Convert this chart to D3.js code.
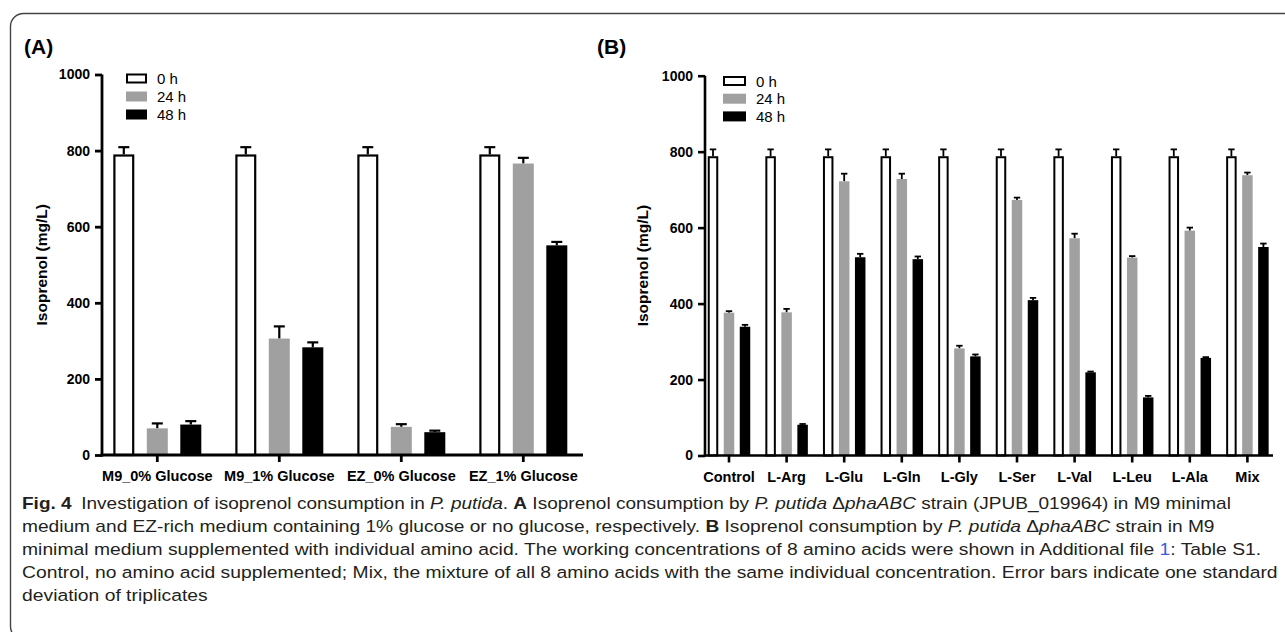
<!DOCTYPE html>
<html><head><meta charset="utf-8">
<script src="https://cdn.jsdelivr.net/npm/d3@7"></script>
<style>
html,body{margin:0;padding:0;background:#fff;}
svg{display:block;}
</style></head>
<body>
<svg id="chart" width="1285" height="632"></svg>
<script>
// ---------- data ----------
const seriesNames = ["0 h", "24 h", "48 h"];
const yTickValues = [0, 200, 400, 600, 800, 1000];

const catsA = ["M9_0% Glucose", "M9_1% Glucose", "EZ_0% Glucose", "EZ_1% Glucose"];
const a0h  = [790, 790, 790, 790];
const a0hErr = [19, 19, 19, 19];
const a24h = [70, 306, 74, 766];
const a24hErr = [13, 32, 7, 15];
const a48h = [80, 283, 60, 551];
const a48hErr = [9, 13, 4, 9];

const catsB = ["Control", "L-Arg", "L-Glu", "L-Gln", "L-Gly", "L-Ser", "L-Val", "L-Leu", "L-Ala", "Mix"];
const b0h  = [788, 788, 788, 788, 788, 788, 788, 788, 788, 788];
const b0hErr = [18, 18, 18, 18, 18, 18, 18, 18, 18, 18];
const b24h = [376, 377, 722, 728, 282, 673, 572, 521, 592, 738];
const b24hErr = [4, 9, 20, 14, 7, 6, 12, 4, 8, 7];
const b48h = [339, 81, 522, 517, 261, 409, 219, 153, 257, 549];
const b48hErr = [5, 2, 9, 7, 5, 6, 2, 4, 2, 9];

// ---------- styles ----------
const fills = {"0 h": "#ffffff", "24 h": "#a0a0a0", "48 h": "#000000"};
const FONT = "'Liberation Sans', Arial, Helvetica, sans-serif";

const svg = d3.select("#chart");

// frame
svg.append("rect").attr("x", 10.5).attr("y", 13.5).attr("width", 1320).attr("height", 626)
  .attr("rx", 13).attr("fill", "none").attr("stroke", "#444").attr("stroke-width", 1.4);

function panel(cfg) {
  const g = svg.append("g");
  const y = d3.scaleLinear().domain([0, 1000]).range([cfg.y0, cfg.y1000]);
  const x0 = d3.scaleBand().domain(cfg.cats).range(cfg.xRange).paddingInner(0).paddingOuter(0);
  const x1 = d3.scaleBand().domain(seriesNames).range([-cfg.inner, cfg.inner]).paddingInner(cfg.innerPad).paddingOuter(0);

  const rows = cfg.cats.map((c, i) => ({
    cat: c,
    vals: seriesNames.map((s, k) => ({s, v: cfg.values[k][i], e: cfg.errs[k][i]}))
  }));

  const groups = g.selectAll("g.grp").data(rows).enter().append("g")
    .attr("transform", d => `translate(${x0(d.cat) + x0.bandwidth() / 2},0)`);

  // error bars (upper only)
  groups.selectAll("g.err").data(d => d.vals).enter().append("g").each(function(d) {
    const cx = x1(d.s) + x1.bandwidth() / 2;
    const gg = d3.select(this);
    gg.append("line").attr("x1", cx).attr("x2", cx).attr("y1", y(d.v)).attr("y2", y(d.v + d.e))
      .attr("stroke", "#000").attr("stroke-width", cfg.errW);
    gg.append("line").attr("x1", cx - cfg.cap).attr("x2", cx + cfg.cap)
      .attr("y1", y(d.v + d.e)).attr("y2", y(d.v + d.e))
      .attr("stroke", "#000").attr("stroke-width", cfg.errW);
  });

  groups.selectAll("rect").data(d => d.vals).enter().append("rect")
    .attr("x", d => x1(d.s) + (d.s === "0 h" ? cfg.sw / 2 : 0))
    .attr("width", d => x1.bandwidth() - (d.s === "0 h" ? cfg.sw : 0))
    .attr("y", d => y(d.v) + (d.s === "0 h" ? cfg.sw / 2 : 0))
    .attr("height", d => y(0) - y(d.v) - (d.s === "0 h" ? cfg.sw / 2 : 0))
    .attr("fill", d => fills[d.s])
    .attr("stroke", d => d.s === "0 h" ? "#000" : "none")
    .attr("stroke-width", cfg.sw);

  // y axis
  const ya = g.append("g").attr("transform", `translate(${cfg.axisX},0)`)
    .call(d3.axisLeft(y).tickValues(yTickValues).tickFormat(d3.format("d"))
      .tickSize(7).tickSizeOuter(0).tickPadding(3));
  ya.select(".domain").attr("stroke-width", cfg.axW).attr("d", `M0,${cfg.y1000}V${cfg.y0 + cfg.axW / 2}`);
  ya.selectAll(".tick line").attr("stroke-width", cfg.axW);
  ya.selectAll(".tick text").attr("font-family", FONT).attr("font-weight", "bold")
    .attr("font-size", 14).attr("fill", "#000").attr("x", -12);

  // x axis
  const xa = g.append("g").attr("transform", `translate(0,${cfg.y0})`)
    .call(d3.axisBottom(x0).tickSize(7).tickSizeOuter(0).tickPadding(3));
  xa.select(".domain").attr("stroke-width", cfg.axW).attr("d", `M${cfg.axisX - cfg.axW / 2},0H${cfg.xEnd}`);
  xa.selectAll(".tick line").attr("stroke-width", cfg.axW);
  xa.selectAll(".tick text").attr("font-family", FONT).attr("font-weight", "bold")
    .attr("font-size", 14.5).attr("fill", "#000").attr("dy", null).attr("y", 26);

  // y title
  g.append("text").attr("transform", `translate(${cfg.titleX},${(cfg.y0 + cfg.y1000) / 2}) rotate(-90)`)
    .attr("text-anchor", "middle").attr("font-family", FONT).attr("font-weight", "bold")
    .attr("font-size", 15.5).text("Isoprenol (mg/L)");

  // panel label
  g.append("text").attr("x", cfg.labX).attr("y", 54).attr("font-family", FONT)
    .attr("font-weight", "bold").attr("font-size", 21).text(cfg.label);

  // legend
  const lg = g.append("g");
  seriesNames.forEach((s, k) => {
    const yy = cfg.legY + k * cfg.legStep;
    lg.append("rect").attr("x", cfg.legX + (s === "0 h" ? 1 : 0)).attr("y", yy + (s === "0 h" ? 1 : 0))
      .attr("width", cfg.legW - (s === "0 h" ? 2 : 0)).attr("height", 10 - (s === "0 h" ? 2 : 0))
      .attr("fill", fills[s]).attr("stroke", s === "0 h" ? "#000" : "none").attr("stroke-width", 2);
    lg.append("text").attr("x", cfg.legX + cfg.legW + 10).attr("y", yy + 10.5)
      .attr("font-family", FONT).attr("font-size", 15).text(s);
  });
}

panel({
  cats: catsA, values: [a0h, a24h, a48h], errs: [a0hErr, a24hErr, a48hErr],
  y0: 455, y1000: 74.5, xRange: [96.3, 584.3], inner: 44, innerPad: 0.373,
  axisX: 102, xEnd: 583, sw: 2.2, errW: 2.2, cap: 5.5, axW: 2.8,
  titleX: 47, labX: 24, label: "(A)",
  legX: 126, legY: 73.5, legStep: 18, legW: 21
});

panel({
  cats: catsB, values: [b0h, b24h, b48h], errs: [b0hErr, b24hErr, b48hErr],
  y0: 455.5, y1000: 75.7, xRange: [700.2, 1276.2], inner: 21.25, innerPad: 0.344,
  axisX: 705, xEnd: 1273, sw: 2, errW: 1.8, cap: 3.2, axW: 2.6,
  titleX: 648, labX: 597, label: "(B)",
  legX: 723, legY: 76, legStep: 17.7, legW: 23
});

// ---------- caption ----------
const capLines = [
  [["Fig. 4", "b"], ["\u2002Investigation of isoprenol consumption in "], ["P. putida", "i"], [". "], ["A", "b"], [" Isoprenol consumption by "], ["P. putida", "i"], [" \u0394"], ["phaABC", "i"], [" strain (JPUB_019964) in M9 minimal"]],
  [["medium and EZ-rich medium containing 1% glucose or no glucose, respectively. "], ["B", "b"], [" Isoprenol consumption by "], ["P. putida", "i"], [" \u0394"], ["phaABC", "i"], [" strain in M9"]],
  [["minimal medium supplemented with individual amino acid. The working concentrations of 8 amino acids were shown in Additional file "], ["1", "link"], [": Table S1."]],
  [["Control, no amino acid supplemented; Mix, the mixture of all 8 amino acids with the same individual concentration. Error bars indicate one standard"]],
  [["deviation of triplicates"]]
];
const capEnds = [1232, 1215, 1262, 1278, null];
const capY0 = 509, capStep = 23, capX = 22;
let lastScale = 1;
capLines.forEach((parts, i) => {
  const t = svg.append("text").attr("font-family", FONT)
    .attr("font-size", 17).attr("fill", "#231f20");
  parts.forEach(p => {
    const ts = t.append("tspan").text(p[0]);
    if (p[1] === "b") ts.attr("font-weight", "bold");
    if (p[1] === "i") ts.attr("font-style", "italic");
    if (p[1] === "link") ts.attr("fill", "#3b5bdb");
  });
  const sx = capEnds[i] ? (capEnds[i] - capX) / t.node().getComputedTextLength() : lastScale;
  lastScale = sx;
  t.attr("transform", `translate(${capX},${capY0 + i * capStep}) scale(${sx},1)`);
});
</script>
</body></html>
